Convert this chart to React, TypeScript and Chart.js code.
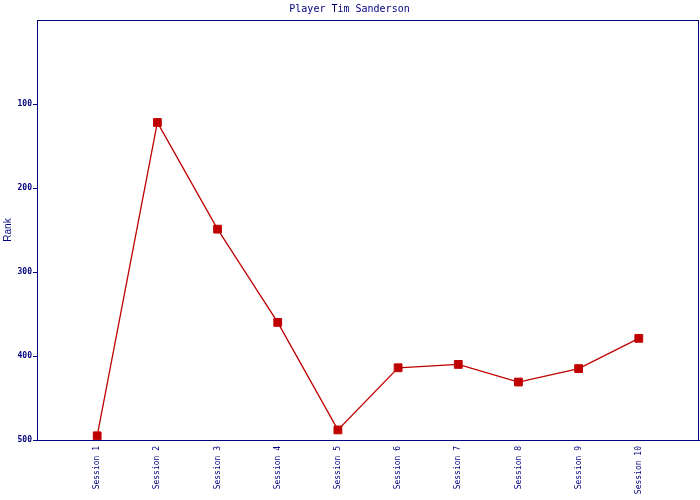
import React, { useEffect, useRef } from "react";
import { Chart, registerables } from "chart.js";

Chart.register(...registerables);

const sessions = ["Session 1", "Session 2", "Session 3", "Session 4", "Session 5", "Session 6", "Session 7", "Session 8", "Session 9", "Session 10"];
const ranks = [495, 122, 249, 360, 488, 414, 410, 431, 415, 379];
const rankTicks = [100, 200, 300, 400, 500];

const NAVY = "#000080";
const RED = "#c00000";

const noPadding = () => ({ left: 0, right: 0, top: 0, bottom: 0 });

export default function App() {
  const ref = useRef<HTMLCanvasElement | null>(null);
  useEffect(() => {
    document.body.style.margin = "0";
    const canvas = ref.current!;
    const framePlugin = {
      id: "frame",
      afterDraw(chart: any) {
        const { ctx, chartArea } = chart;
        ctx.save();
        ctx.strokeStyle = NAVY;
        ctx.lineWidth = 1;
        ctx.strokeRect(Math.round(chartArea.left) + 0.5, Math.round(chartArea.top) + 0.5, Math.round(chartArea.right - chartArea.left) - 1, Math.round(chartArea.bottom - chartArea.top));
        ctx.restore();
      },
    };
    const chart = new Chart(canvas, {
      type: "line",
      data: {
        datasets: [
          {
            data: ranks.map((r, i) => ({ x: i + 1, y: r })),
            borderColor: RED,
            backgroundColor: RED,
            borderWidth: 1.3,
            pointStyle: "rect",
            pointRadius: 5.5,
            pointBorderWidth: 1,
            pointBorderColor: RED,
            pointBackgroundColor: RED,
            tension: 0,
          },
        ],
      },
      options: {
        animation: false,
        responsive: false,
        devicePixelRatio: 1,
        layout: { autoPadding: false, padding: { left: 0, right: 1, top: 0, bottom: 0 } },
        plugins: {
          legend: { display: false },
          tooltip: { enabled: false },
          title: {
            display: true,
            text: "Player Tim Sanderson",
            color: NAVY,
            font: { family: "DejaVu Sans Mono", size: 10, weight: "normal", lineHeight: 1.2 },
            padding: { top: 3, bottom: 5 },
          },
        },
        scales: {
          x: {
            type: "linear",
            min: 0,
            max: sessions.length + 1,
            afterBuildTicks: (scale: any) => {
              scale.ticks = sessions.map((_, i) => ({ value: i + 1 }));
            },
            afterFit: (scale: any) => {
              scale.height = 60;
              scale.paddingLeft = 0;
              scale.paddingRight = 0;
              scale.getPadding = noPadding;
            },
            ticks: {
              autoSkip: false,
              minRotation: 90,
              maxRotation: 90,
              padding: 6,
              color: NAVY,
              font: { family: "DejaVu Sans Mono", size: 8 },
              callback: (v: any) => sessions[Number(v) - 1] ?? "",
            },
            grid: { display: false, drawTicks: false },
            border: { display: true, color: NAVY, width: 1 },
          },
          y: {
            type: "linear",
            reverse: true,
            min: 0,
            max: 500,
            afterBuildTicks: (scale: any) => {
              scale.ticks = rankTicks.map((v) => ({ value: v }));
            },
            afterFit: (scale: any) => {
              scale.width = 37;
              scale.paddingTop = 0;
              scale.paddingBottom = 0;
              scale.getPadding = noPadding;
            },
            title: {
              display: true,
              text: "Rank",
              color: NAVY,
              font: { family: "Liberation Sans", size: 10 },
              padding: { top: 2, bottom: 0 },
            },
            ticks: {
              padding: 1,
              color: NAVY,
              font: { family: "DejaVu Sans Mono", size: 8, weight: "bold" },
            },
            grid: { drawOnChartArea: false, drawTicks: true, tickLength: 4, color: NAVY },
            border: { display: true, color: NAVY, width: 1 },
          },
        },
      },
      plugins: [framePlugin],
    });
    return () => chart.destroy();
  }, []);
  return (
    <div style={{ width: 700, height: 500, background: "#fff" }}>
      <canvas ref={ref} width={700} height={500} style={{ display: "block", width: 700, height: 500 }} />
    </div>
  );
}
